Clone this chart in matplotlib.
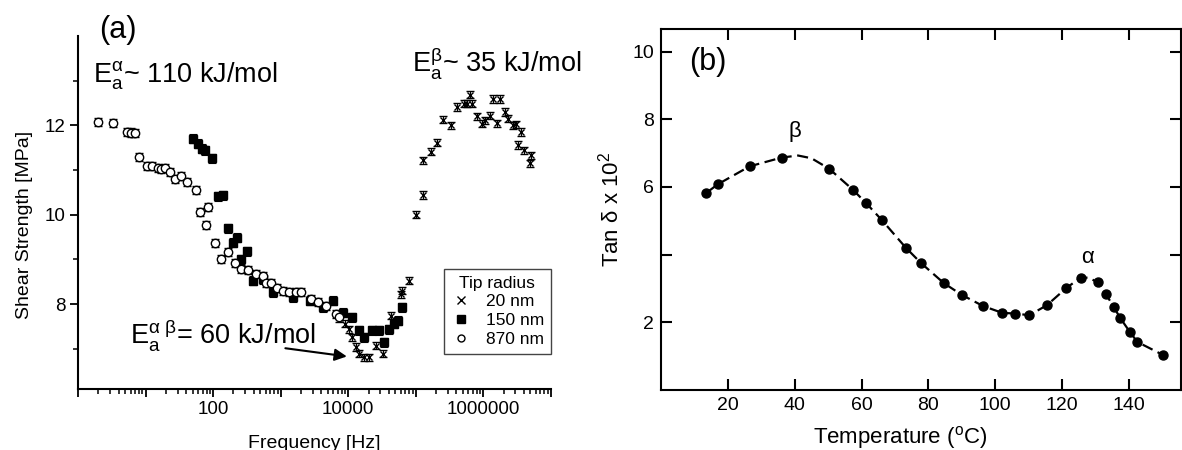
import numpy as np
import matplotlib
matplotlib.use("Agg")
import matplotlib.pyplot as plt
from matplotlib.lines import Line2D

plt.rcParams['font.family'] = ['Liberation Sans', 'DejaVu Sans']
plt.rcParams['mathtext.fontset'] = 'custom'
plt.rcParams['mathtext.rm'] = 'Liberation Sans'
plt.rcParams['mathtext.it'] = 'Liberation Sans:italic'

# panel (a): shear strength vs frequency for three tip radii
f_870 = [1.95, 3.31, 5.25, 6.17, 7.08, 7.94, 10.5, 12.6, 15.1, 17.0, 19.5, 23.4, 27.5,
         33.1, 41.7, 56.2, 64.6, 79.4, 85.1, 107, 129, 166, 209, 263, 331, 437, 550,
         617, 724, 871, 1070, 1350, 1700, 2000, 2820, 3550, 4680, 6610, 7410]
s_870 = [12.07, 12.05, 11.85, 11.84, 11.82, 11.30, 11.10, 11.10, 11.04, 11.02, 11.04,
         10.96, 10.81, 10.87, 10.74, 10.56, 10.07, 9.78, 10.18, 9.37, 9.00, 9.16, 8.93,
         8.79, 8.77, 8.67, 8.62, 8.48, 8.48, 8.37, 8.30, 8.26, 8.26, 8.26, 8.11, 8.04,
         7.96, 7.78, 7.70]
err_870 = 0.09

f_150 = [50.1, 60.3, 67.6, 75.9, 97.7, 120, 141, 166, 200, 224, 263, 316, 389, 550,
         776, 1510, 2690, 4170, 5890, 8320, 11500, 14500, 17400, 22900, 28800, 33900,
         39800, 47900, 55000, 63100]
s_150 = [11.70, 11.59, 11.48, 11.44, 11.26, 10.41, 10.44, 9.70, 9.37, 9.48, 9.00, 9.18,
         8.52, 8.56, 8.26, 8.15, 8.07, 7.93, 8.07, 7.81, 7.70, 7.41, 7.26, 7.41, 7.41,
         7.15, 7.44, 7.56, 7.63, 7.93]
err_150 = 0.1

f_20 = [9120, 10200, 11500, 12900, 14500, 17400, 20400, 25700, 32400, 42700, 47900,
        60300, 63100, 79400, 1.0e5, 1.26e5, 1.26e5, 1.66e5, 2.04e5, 2.57e5, 3.31e5,
        4.07e5, 5.13e5, 5.75e5, 6.92e5, 6.31e5, 8.13e5, 9.55e5, 1.07e6, 1.26e6, 1.41e6,
        1.78e6, 1.58e6, 2.09e6, 2.34e6, 2.75e6, 3.09e6, 3.63e6, 3.24e6, 4.07e6, 5.13e6,
        4.90e6]
s_20 = [7.56, 7.44, 7.26, 7.04, 6.89, 6.81, 6.81, 7.07, 6.89, 7.74, 7.59, 8.22, 8.30,
        8.52, 10.00, 10.44, 11.22, 11.41, 11.61, 12.13, 12.00, 12.41, 12.48, 12.48,
        12.48, 12.69, 12.20, 12.04, 12.11, 12.22, 12.59, 12.59, 12.05, 12.30, 12.15,
        12.00, 12.02, 11.85, 11.56, 11.44, 11.33, 11.15]
err_20 = 0.08

freq_ticks = [1, 10, 100, 1000, 10000, 100000, 1000000, 10000000]
freq_labels = ['', '', '100', '', '10000', '', '1000000', '']

# panel (b): tan delta vs temperature
temp = [13.5, 17.0, 26.5, 36.1, 50.3, 57.4, 61.3, 66.0, 73.2, 77.7, 84.6, 90.0, 96.4,
        102.1, 105.9, 110.2, 115.5, 121.2, 125.5, 130.6, 133.0, 135.4, 137.3, 140.3,
        142.5, 150.3]
tand = [5.82, 6.08, 6.61, 6.87, 6.54, 5.92, 5.53, 5.03, 4.21, 3.76, 3.16, 2.81, 2.48,
        2.28, 2.26, 2.21, 2.51, 3.01, 3.32, 3.18, 2.85, 2.46, 2.14, 1.71, 1.42, 1.03]
# dashed guide line (passes over the beta peak)
guide_temp = [13.5, 17.0, 26.5, 36.1, 41.0, 45.0, 50.3, 57.4, 61.3, 66.0, 73.2, 77.7,
              84.6, 90.0, 96.4, 102.1, 105.9, 110.2, 115.5, 121.2, 125.5, 128.0, 130.6,
              133.0, 135.4, 137.3, 140.3, 142.5, 150.3]
guide_tand = [5.82, 6.08, 6.61, 6.87, 6.93, 6.85, 6.54, 5.92, 5.53, 5.03, 4.21, 3.76,
              3.16, 2.81, 2.48, 2.28, 2.26, 2.21, 2.51, 3.01, 3.32, 3.32, 3.18, 2.85,
              2.46, 2.14, 1.71, 1.42, 1.03]
tan_ticks = [2, 4, 6, 8, 10]
tan_labels = ['2', '', '6', '8', '10']

fig = plt.figure(figsize=(11.82, 4.5), dpi=100)

# ---- (a)
ax1 = fig.add_axes([0.066, 0.1356, 0.4, 0.7844])
ax1.errorbar(f_870, s_870, yerr=err_870, fmt='o', ms=6, mfc='white', mec='black', mew=1,
             ecolor='black', elinewidth=0.8, capsize=3, capthick=0.8, zorder=3)
ax1.errorbar(f_150, s_150, yerr=err_150, fmt='s', ms=6, color='black',
             ecolor='black', elinewidth=0.8, capsize=3, capthick=0.8, zorder=2)
ax1.errorbar(f_20, s_20, yerr=err_20, fmt='x', ms=5, mew=1, color='black',
             ecolor='black', elinewidth=0.8, capsize=3, capthick=0.8, zorder=4)
ax1.set_xscale('log')
ax1.set_xlim(1, 1e7)
ax1.set_ylim(6.1, 14)
ax1.set_xticks(freq_ticks)
ax1.set_xticklabels(freq_labels)
ax1.xaxis.set_minor_locator(matplotlib.ticker.LogLocator(base=10, subs=np.arange(2, 10)))
ax1.xaxis.set_minor_formatter(matplotlib.ticker.NullFormatter())
ax1.set_yticks([8, 10, 12])
ax1.set_yticks([7, 9, 11, 13], minor=True)
for side in ['top', 'right']:
    ax1.spines[side].set_visible(False)
for side in ['left', 'bottom']:
    ax1.spines[side].set_linewidth(1.5)
ax1.tick_params(which='major', direction='out', length=6, width=1.3, labelsize=13.5, pad=3)
ax1.tick_params(which='minor', direction='out', length=3.5, width=1.1)
ax1.set_xlabel('Frequency [Hz]', fontsize=14, labelpad=12)
ax1.set_ylabel('Shear Strength [MPa]', fontsize=14)
ax1.yaxis.set_label_coords(-0.095, 0.465)

ax1.text(0.085, 1.017, '(a)', transform=ax1.transAxes, fontsize=22, ha='center', va='center')
ax1.text(0.032, 0.867, r'$\mathregular{E_a^{\alpha}}$~ 110 kJ/mol', transform=ax1.transAxes,
         fontsize=19.5, ha='left', va='baseline')
ax1.text(0.706, 0.898, r'$\mathregular{E_a^{\beta}}$~ 35 kJ/mol', transform=ax1.transAxes,
         fontsize=19.5, ha='left', va='baseline')
ax1.text(0.11, 0.125, r'$\mathregular{E_a^{\alpha\ \beta}}$= 60 kJ/mol', transform=ax1.transAxes,
         fontsize=19.5, ha='left', va='baseline')
ax1.annotate('', xy=(1.05e4, 6.82), xytext=(1.07e3, 7.02),
             arrowprops=dict(arrowstyle='-|>', lw=1.5, color='black', mutation_scale=18))

handles = [Line2D([], [], ls='none', marker='x', ms=6, mew=1, color='black'),
           Line2D([], [], ls='none', marker='s', ms=6, color='black'),
           Line2D([], [], ls='none', marker='o', ms=5, mfc='white', mec='black')]
leg = ax1.legend(handles, ['20 nm', '150 nm', '870 nm'], title='Tip radius',
                 loc='lower right', bbox_to_anchor=(1.0, 0.1), borderaxespad=0,
                 fontsize=12.5, title_fontsize=12.5, frameon=True, fancybox=False,
                 framealpha=1, edgecolor='#444444', handlelength=1.2, handletextpad=0.8,
                 borderpad=0.4, labelspacing=0.2)
leg.get_frame().set_linewidth(1.0)

# ---- (b)
ax2 = fig.add_axes([0.5592, 0.1333, 0.4398, 0.8023])
ax2.plot(guide_temp, guide_tand, color='black', lw=1.6, ls=(0, (5, 2.5)))
ax2.plot(temp, tand, 'o', ms=6.5, color='black')
ax2.set_xlim(0, 155.5)
ax2.set_ylim(0, 10.67)
ax2.set_xticks([20, 40, 60, 80, 100, 120, 140])
ax2.set_yticks(tan_ticks)
ax2.set_yticklabels(tan_labels)
for side in ax2.spines:
    ax2.spines[side].set_linewidth(1.5)
ax2.tick_params(direction='in', length=8, width=1.5, labelsize=14, pad=5,
                top=True, right=True)
ax2.set_xlabel(r'Temperature ($\mathregular{^o}$C)', fontsize=16, labelpad=8)
ax2.xaxis.set_label_coords(0.46, -0.095)
ax2.set_ylabel(r'Tan $\mathregular{\delta}$ x 10$\mathregular{^2}$', fontsize=16, labelpad=6)
ax2.text(0.09, 0.909, '(b)', transform=ax2.transAxes, fontsize=22, ha='center', va='center')
ax2.text(40.2, 7.65, r'$\mathregular{\beta}$', fontsize=16, ha='center', va='center')
ax2.text(127.8, 3.91, r'$\mathregular{\alpha}$', fontsize=16, ha='center', va='center')

fig.savefig('out.png', dpi=100)
